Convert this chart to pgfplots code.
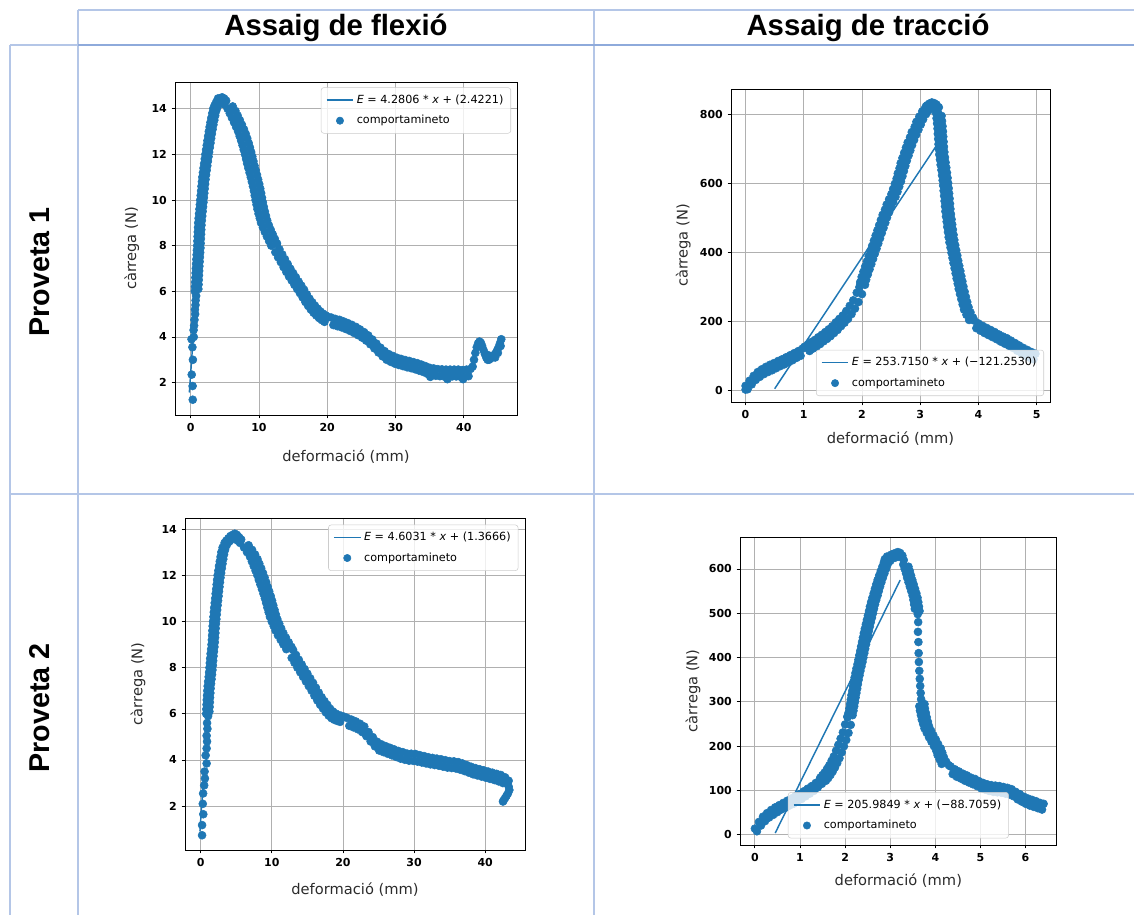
\documentclass[border=0pt]{standalone}
\usepackage{fontspec}
\setmainfont{DejaVu Sans}
\newfontfamily\arialfont{Liberation Sans}
\usepackage{pgfplots}
\pgfplotsset{compat=1.18}

\definecolor{mplblue}{HTML}{1F77B4}
\definecolor{gridgray}{HTML}{B0B0B0}
\definecolor{legendgray}{HTML}{CCCCCC}
\definecolor{tabthin}{HTML}{B4C6E7}
\definecolor{tabthick}{HTML}{8EAADB}
\definecolor{labelcol}{HTML}{2B2B2B}

\pgfplotsset{
  mplax/.style={
    scale only axis,
    anchor=north west,
    axis line style={black, line width=0.6pt},
    grid=major,
    major grid style={gridgray, line width=0.6pt},
    tick align=outside,
    major tick length=2.6pt,
    every tick/.style={black, line width=0.6pt},
    tick pos=left,
    ticklabel style={font=\fontsize{8.25}{10}\selectfont\bfseries},
    /pgf/number format/assume math mode=true,
    label style={font=\fontsize{11}{13}\selectfont, text=labelcol},
    xlabel={deformació (mm)},
    ylabel={càrrega (N)},
    legend cell align=left,
    reverse legend,
    legend style={font=\fontsize{8.4}{10}\selectfont, draw=legendgray,
      rounded corners=2pt, fill=white, fill opacity=0.8, text opacity=1,
      inner xsep=3.5pt, inner ysep=3.5pt, row sep=3.5pt},
  },
  dots/.style={only marks, mark=*, mark size=3pt, color=mplblue,
    mark options={fill=mplblue, draw=mplblue},
    legend image code/.code={\fill[mplblue, fill opacity=1] (10pt,0pt) circle (2.75pt);}},
  fitline/.style={mplblue, line width=1.1pt, no marks,
    legend image code/.code={\draw[mplblue, line width=1.2pt, draw opacity=1] (0pt,0pt) -- (20pt,0pt);}},
}

\begin{document}
\begin{tikzpicture}
% table grid, 1 unit = 1 px of the reference, y downwards
\begin{scope}[x=0.75pt, y=-0.75pt]
  \path[use as bounding box] (0,0) rectangle (1134,915);
  \draw[tabthin, line width=1.1pt] (78,10) -- (1134,10);
  \draw[tabthin, line width=1.1pt] (10,45) -- (78,45);
  \draw[tabthin, line width=1.1pt] (78,10) -- (78,915);
  \draw[tabthin, line width=1.1pt] (594,10) -- (594,915);
  \draw[tabthin, line width=1.1pt] (10,45) -- (10,915);
  \draw[tabthin, line width=1.1pt] (10,494) -- (1134,494);
  \draw[tabthick, line width=2.2pt] (78,45) -- (1134,45);
  \node[font=\arialfont\bfseries\fontsize{22}{25}\selectfont] at (336,28) {Assaig de flexió};
  \node[font=\arialfont\bfseries\fontsize{22}{25}\selectfont] at (868,28) {Assaig de tracció};
  \node[rotate=90, font=\arialfont\bfseries\fontsize{21.5}{24}\selectfont] at (40,272) {Proveta 1};
  \node[rotate=90, font=\arialfont\bfseries\fontsize{21.5}{24}\selectfont] at (40,708) {Proveta 2};
\end{scope}

% Proveta 1, flexió
\begin{axis}[mplax, at={(131.25pt,-61.5pt)}, width=256.5pt, height=249.75pt,
  xmin=-2.3, xmax=47.8, ymin=0.58, ymax=15.17,
  xtick={0,10,20,30,40}, ytick={2,4,6,8,10,12,14},
  xlabel style={at={(axis description cs:0.5,-0.126)}, anchor=center},
  ylabel style={at={(axis description cs:-0.126,0.5)}, anchor=center},
  legend style={at={(1,1)}, anchor=north east, xshift=-4.5pt, yshift=-4pt}]
\addplot[dots] coordinates {
(0.30,1.25) (0.28,1.85) (0.15,2.35) (0.32,3.0) (0.25,3.55) (0.12,3.9) (0.45,4.0) (0.42,4.3) (0.5,4.5) (0.55,4.75) (0.65,5.0) (0.62,5.2) (0.7,5.4) (0.72,5.6) (0.8,5.8)
(0.6,6.0) (0.63,6.2) (0.66,6.4) (0.69,6.6) (0.72,6.8) (0.75,7.0) (0.79,7.2) (0.83,7.4) (0.87,7.6) (0.91,7.8) (0.95,8.0) (0.98,8.2) (1.01,8.4) (1.04,8.6) (1.07,8.8) (1.1,9.0) (1.16,9.2) (1.22,9.4) (1.28,9.6) (1.34,9.8) (1.4,10.0) (1.46,10.2) (1.52,10.4) (1.58,10.6) (1.64,10.8) (1.7,11.0) (1.79,11.2) (1.88,11.4) (1.97,11.6) (2.06,11.8) (2.15,12.0) (2.25,12.2) (2.35,12.4) (2.45,12.6) (2.55,12.8) (2.65,13.0) (2.77,13.2) (2.89,13.4) (3.02,13.6) (3.16,13.8) (3.3,14.0) (3.5,14.15) (3.75,14.3)
(1.12,6.1) (1.15,6.3) (1.18,6.5) (1.21,6.7) (1.24,6.9) (1.27,7.1) (1.31,7.3) (1.35,7.5) (1.39,7.7) (1.43,7.9) (1.46,8.1) (1.49,8.3) (1.52,8.5) (1.55,8.7) (1.58,8.9) (1.63,9.1) (1.69,9.3) (1.75,9.5) (1.81,9.7) (1.87,9.9) (1.93,10.1) (1.99,10.3) (2.05,10.5) (2.11,10.7) (2.17,10.9) (2.25,11.1) (2.34,11.3) (2.43,11.5) (2.52,11.7) (2.61,11.9) (2.7,12.1) (2.8,12.3) (2.9,12.5) (3.0,12.7) (3.1,12.9) (3.21,13.1) (3.33,13.3) (3.46,13.5) (3.59,13.7) (3.73,13.9) (3.9,14.05) (4.1,14.2)
(4.3,14.45) (4.6,14.5) (4.9,14.45) (5.2,14.35) (4.5,14.3) (4.9,14.2) (4.0,14.45)
(4.93,14.2) (5.4,14.0) (5.72,13.8) (6.04,13.6) (6.35,13.4) (6.65,13.2) (6.95,13.0) (7.17,12.8) (7.39,12.6) (7.59,12.4) (7.77,12.2) (7.95,12.0) (8.11,11.8) (8.27,11.6) (8.44,11.4) (8.62,11.2) (8.8,11.0) (8.96,10.8) (9.12,10.6) (9.26,10.4) (9.38,10.2) (9.5,10.0) (9.64,9.8) (9.78,9.6) (9.94,9.4) (10.12,9.2) (10.3,9.0) (10.58,8.8) (10.86,8.6) (11.16,8.4) (11.48,8.2) (11.8,8.0)
(6.16,14.1) (6.56,13.9) (6.88,13.7) (7.2,13.5) (7.5,13.3) (7.8,13.1) (8.06,12.9) (8.28,12.7) (8.49,12.5) (8.68,12.3) (8.86,12.1) (9.03,11.9) (9.19,11.7) (9.35,11.5) (9.53,11.3) (9.71,11.1) (9.88,10.9) (10.04,10.7) (10.19,10.5) (10.32,10.3) (10.44,10.1) (10.57,9.9) (10.71,9.7) (10.86,9.5) (11.03,9.3) (11.21,9.1) (11.44,8.9) (11.72,8.7) (12.01,8.5) (12.32,8.3) (12.64,8.1)
(12.6,8.06) (13.0,7.84) (13.4,7.62) (13.8,7.41) (14.2,7.2) (14.6,6.99) (15.0,6.8) (15.4,6.62) (15.8,6.43) (16.2,6.25) (16.6,6.07) (17.0,5.87) (17.4,5.68) (17.8,5.52) (18.2,5.37) (18.6,5.24) (19.0,5.12) (19.4,5.02) (19.8,4.94) (20.2,4.87)
(12.4,7.71) (12.8,7.49) (13.2,7.28) (13.6,7.06) (14.0,6.85) (14.4,6.65) (14.8,6.47) (15.2,6.28) (15.6,6.1) (16.0,5.92) (16.4,5.73) (16.8,5.53) (17.2,5.36) (17.6,5.2) (18.0,5.06) (18.4,4.94) (18.8,4.83) (19.2,4.74) (19.6,4.66)
(20.6,4.85) (21.2,4.79) (21.8,4.75) (22.4,4.68) (23.0,4.61) (23.6,4.53) (24.2,4.44) (24.8,4.33) (25.4,4.21) (26.0,4.07) (26.6,3.89) (27.2,3.71) (27.8,3.53) (28.4,3.38) (29.0,3.25) (29.6,3.17) (30.2,3.09) (30.8,3.04) (31.4,2.99) (32.0,2.95) (32.6,2.9) (33.2,2.85) (33.8,2.79) (34.4,2.72) (35.0,2.65) (35.6,2.62) (36.2,2.59) (36.8,2.58) (37.4,2.57) (38.0,2.57) (38.6,2.57) (39.2,2.57) (39.8,2.55) (40.4,2.57) (41.0,2.6)
(20.9,4.52) (21.5,4.47) (22.1,4.42) (22.7,4.35) (23.3,4.27) (23.9,4.18) (24.5,4.08) (25.1,3.97) (25.7,3.84) (26.3,3.68) (26.9,3.5) (27.5,3.32) (28.1,3.15) (28.7,3.0) (29.3,2.91) (29.9,2.83) (30.5,2.77) (31.1,2.72) (31.7,2.67) (32.3,2.63) (32.9,2.58) (33.5,2.52) (34.1,2.46) (34.7,2.38) (35.3,2.33) (35.9,2.3) (36.5,2.28) (37.1,2.27) (37.7,2.27) (38.3,2.27) (38.9,2.27) (39.5,2.26) (40.1,2.25) (40.7,2.28)
(37.6,2.15) (39.9,2.15) (35.1,2.25)
(41.3,2.7) (41.5,3.0) (41.7,3.3) (41.9,3.55) (42.1,3.72) (42.3,3.8) (42.5,3.75) (42.7,3.6) (42.9,3.42) (43.1,3.25) (43.3,3.1) (43.5,3.0) (43.7,3.0) (43.9,3.05) (44.1,3.1) (44.3,3.15) (44.5,3.22) (44.7,3.3) (44.9,3.42) (45.1,3.55) (45.3,3.72) (45.5,3.9) (45.4,3.6) (45.0,3.3) (44.6,3.1) (43.6,3.2) (42.4,3.6)
};
\addlegendentry{comportamineto}
\addplot[fitline] coordinates {(-0.2,1.566) (0.35,3.920)};
\addlegendentry{\textit{E} = 4.2806 * \textit{x} + (2.4221)}
\end{axis}

% Proveta 1, tracció
\begin{axis}[mplax, at={(548.25pt,-66.75pt)}, width=239.25pt, height=234.75pt,
  xmin=-0.25, xmax=5.23, ymin=-33, ymax=875,
  xtick={0,1,2,3,4,5}, ytick={0,200,400,600,800},
  xlabel style={at={(axis description cs:0.5,-0.118)}, anchor=center},
  ylabel style={at={(axis description cs:-0.15,0.5)}, anchor=center},
  legend style={at={(1,0)}, anchor=south east, xshift=-4.5pt, yshift=4.5pt}]
\addplot[dots] coordinates {
(0.0,3) (0.02,10)
(0.0,14) (0.07,29) (0.14,43) (0.21,54) (0.28,62) (0.35,69) (0.42,75) (0.49,80) (0.56,86) (0.63,91) (0.7,97) (0.77,103) (0.84,109) (0.91,115) (0.98,122)
(0.035,4) (0.105,18) (0.175,31) (0.245,40) (0.315,48) (0.385,54) (0.455,59) (0.525,65) (0.595,71) (0.665,76) (0.735,82) (0.805,88) (0.875,95) (0.945,101)
(1.01,127) (1.07,134) (1.13,141) (1.19,147) (1.25,155) (1.31,162) (1.37,170) (1.43,178) (1.49,187) (1.55,198) (1.61,208) (1.67,218) (1.73,231) (1.79,246) (1.85,262) (1.91,284) (1.97,308)
(1.1,115) (1.16,122) (1.22,128) (1.28,135) (1.34,143) (1.4,150) (1.46,158) (1.52,167) (1.58,176) (1.64,187) (1.7,197) (1.76,208) (1.82,222) (1.88,238) (1.94,257) (2.0,280)
(1.955,300) (1.97,315) (1.995,330) (2.025,345) (2.055,360) (2.085,375) (2.115,390) (2.145,405) (2.175,420) (2.205,435) (2.235,450) (2.265,465) (2.295,480) (2.325,495) (2.355,510) (2.395,525) (2.425,540) (2.465,555) (2.505,570) (2.535,585) (2.565,600) (2.595,615) (2.615,630) (2.645,645) (2.665,660) (2.695,675) (2.725,690) (2.755,705) (2.785,720) (2.825,735) (2.855,750) (2.905,765) (2.935,780) (2.985,795) (3.035,810)
(2.052,307) (2.072,322) (2.1,337) (2.13,352) (2.16,367) (2.19,382) (2.22,397) (2.25,412) (2.28,427) (2.31,442) (2.34,457) (2.37,472) (2.4,487) (2.43,502) (2.465,517) (2.5,532) (2.535,547) (2.575,562) (2.61,577) (2.64,592) (2.67,607) (2.695,622) (2.72,637) (2.745,652) (2.77,667) (2.8,682) (2.83,697) (2.86,712) (2.895,727) (2.93,742) (2.97,757) (3.01,772) (3.05,787) (3.1,802)
(3.08,818) (3.12,828) (3.16,833) (3.2,836) (3.24,834) (3.28,830) (3.32,822) (3.14,812) (3.2,820) (3.26,816) (3.3,808) (3.1,825)
(3.273,805) (3.281,790) (3.29,775) (3.298,760) (3.303,745) (3.309,730) (3.315,715) (3.321,700) (3.328,685) (3.34,670) (3.351,655) (3.365,640) (3.375,625) (3.386,610) (3.395,595) (3.403,580) (3.411,565) (3.419,550) (3.426,535) (3.433,520) (3.443,505) (3.455,490) (3.465,475) (3.477,460) (3.489,445) (3.503,430) (3.521,415) (3.538,400) (3.555,385) (3.572,370) (3.591,355) (3.609,340) (3.626,325) (3.645,310) (3.662,295) (3.684,280) (3.707,265) (3.73,250) (3.753,235) (3.795,220) (3.84,205)
(3.367,797) (3.375,782) (3.384,767) (3.391,752) (3.396,737) (3.402,722) (3.408,707) (3.415,692) (3.425,677) (3.436,662) (3.448,647) (3.46,632) (3.47,617) (3.48,602) (3.489,587) (3.497,572) (3.505,557) (3.512,542) (3.519,527) (3.528,512) (3.539,497) (3.55,482) (3.561,467) (3.573,452) (3.586,437) (3.602,422) (3.619,407) (3.637,392) (3.653,377) (3.671,362) (3.69,347) (3.707,332) (3.725,317) (3.743,302) (3.763,287) (3.785,272) (3.808,257) (3.831,242) (3.864,227) (3.907,212)
(3.93,203) (4.0,195) (4.07,188) (4.14,182) (4.21,176) (4.28,170) (4.35,163) (4.42,157) (4.49,152) (4.56,145) (4.63,138) (4.7,131) (4.77,124) (4.84,118) (4.91,112) (4.98,107)
(3.965,181) (4.035,174) (4.105,167) (4.175,161) (4.245,155) (4.315,149) (4.385,142) (4.455,136) (4.525,130) (4.595,124) (4.665,116) (4.735,109) (4.805,102) (4.875,96) (4.945,91)
};
\addlegendentry{comportamineto}
\addplot[fitline] coordinates {(0.5,5.6) (3.43,749.0)};
\addlegendentry{\textit{E} = 253.7150 * \textit{x} + (−121.2530)}
\end{axis}

% Proveta 2, flexió
\begin{axis}[mplax, at={(138.75pt,-388.5pt)}, width=255pt, height=249pt,
  xmin=-2.2, xmax=45.6, ymin=0.1, ymax=14.48,
  xtick={0,10,20,30,40}, ytick={2,4,6,8,10,12,14},
  xlabel style={at={(axis description cs:0.5,-0.12)}, anchor=center},
  ylabel style={at={(axis description cs:-0.138,0.5)}, anchor=center},
  legend style={at={(1,1)}, anchor=north east, xshift=-5pt, yshift=-5pt}]
\addplot[dots] coordinates {
(0.2,0.74) (0.2,1.18) (0.37,1.65) (0.3,2.1) (0.35,2.55) (0.5,2.9) (0.6,3.2) (0.55,3.5) (0.84,3.85) (0.7,4.2) (0.84,4.5) (0.9,4.8) (0.84,5.05) (0.95,5.35) (0.9,5.6) (1.05,5.9)
(0.78,6.0) (0.8,6.2) (0.83,6.4) (0.86,6.6) (0.9,6.8) (0.94,7.0) (0.99,7.2) (1.06,7.4) (1.13,7.6) (1.19,7.8) (1.24,8.0) (1.29,8.2) (1.34,8.4) (1.4,8.6) (1.47,8.8) (1.53,9.0) (1.57,9.2) (1.61,9.4) (1.65,9.6) (1.69,9.8) (1.74,10.0) (1.8,10.2) (1.85,10.4) (1.91,10.6) (1.98,10.8) (2.05,11.0) (2.11,11.2) (2.18,11.4) (2.25,11.6) (2.31,11.8) (2.39,12.0) (2.49,12.2) (2.58,12.4) (2.69,12.6) (2.8,12.8) (2.91,13.0) (3.08,13.2) (3.36,13.4)
(1.23,6.1) (1.26,6.3) (1.29,6.5) (1.32,6.7) (1.36,6.9) (1.4,7.1) (1.46,7.3) (1.53,7.5) (1.6,7.7) (1.66,7.9) (1.71,8.1) (1.76,8.3) (1.81,8.5) (1.87,8.7) (1.94,8.9) (1.99,9.1) (2.03,9.3) (2.07,9.5) (2.11,9.7) (2.15,9.9) (2.21,10.1) (2.26,10.3) (2.32,10.5) (2.38,10.7) (2.45,10.9) (2.52,11.1) (2.58,11.3) (2.65,11.5) (2.72,11.7) (2.79,11.9) (2.88,12.1) (2.97,12.3) (3.07,12.5) (3.18,12.7) (3.29,12.9) (3.43,13.1) (3.66,13.3)
(3.6,13.5) (3.9,13.6) (4.2,13.7) (4.5,13.75) (4.8,13.8) (5.1,13.75) (5.4,13.65) (4.0,13.45) (4.4,13.55) (4.8,13.6) (5.2,13.5) (5.7,13.55)
(5.54,13.4) (6.1,13.2) (6.52,13.0) (6.94,12.8) (7.2,12.6) (7.46,12.4) (7.72,12.2) (7.97,12.0) (8.18,11.8) (8.4,11.6) (8.62,11.4) (8.83,11.2) (9.03,11.0) (9.21,10.8) (9.38,10.6) (9.56,10.4) (9.74,10.2) (9.99,10.0) (10.27,9.8) (10.54,9.6) (10.87,9.4) (11.26,9.2) (11.64,9.0) (12.04,8.8)
(6.74,13.3) (7.23,13.1) (7.65,12.9) (7.99,12.7) (8.25,12.5) (8.51,12.3) (8.76,12.1) (8.99,11.9) (9.21,11.7) (9.43,11.5) (9.64,11.3) (9.85,11.1) (10.04,10.9) (10.21,10.7) (10.39,10.5) (10.57,10.3) (10.78,10.1) (11.05,9.9) (11.32,9.7) (11.62,9.5) (11.98,9.3) (12.37,9.1) (12.76,8.9)
(13.0,8.76) (13.4,8.55) (13.8,8.34) (14.2,8.14) (14.6,7.94) (15.0,7.74) (15.4,7.54) (15.8,7.34) (16.2,7.13) (16.6,6.92) (17.0,6.72) (17.4,6.55) (17.8,6.39) (18.2,6.22) (18.6,6.1) (19.0,6.01) (19.4,5.95) (19.8,5.91) (20.2,5.87)
(12.8,8.42) (13.2,8.21) (13.6,8.0) (14.0,7.8) (14.4,7.6) (14.8,7.4) (15.2,7.2) (15.6,7.0) (16.0,6.78) (16.4,6.58) (16.8,6.39) (17.2,6.23) (17.6,6.06) (18.0,5.92) (18.4,5.81) (18.8,5.74) (19.2,5.69) (19.6,5.65)
(20.6,5.82) (21.2,5.75) (21.8,5.67) (22.4,5.57) (23.0,5.45) (23.6,5.21) (24.2,4.99) (24.8,4.79) (25.4,4.68) (26.0,4.6) (26.6,4.53) (27.2,4.46) (27.8,4.39) (28.4,4.34) (29.0,4.28) (29.6,4.27) (30.2,4.26) (30.8,4.21) (31.4,4.17) (32.0,4.12) (32.6,4.09) (33.2,4.06) (33.8,4.03) (34.4,3.99) (35.0,3.95) (35.6,3.94) (36.2,3.91) (36.8,3.85) (37.4,3.78) (38.0,3.71) (38.6,3.65) (39.2,3.6) (39.8,3.55) (40.4,3.5) (41.0,3.45) (41.6,3.4) (42.2,3.35) (42.8,3.25)
(20.9,5.48) (21.5,5.41) (22.1,5.33) (22.7,5.21) (23.3,5.03) (23.9,4.8) (24.5,4.59) (25.1,4.41) (25.7,4.34) (26.3,4.27) (26.9,4.2) (27.5,4.13) (28.1,4.06) (28.7,4.01) (29.3,3.97) (29.9,3.96) (30.5,3.93) (31.1,3.89) (31.7,3.85) (32.3,3.81) (32.9,3.78) (33.5,3.75) (34.1,3.71) (34.7,3.67) (35.3,3.65) (35.9,3.63) (36.5,3.58) (37.1,3.52) (37.7,3.45) (38.3,3.38) (38.9,3.33) (39.5,3.28) (40.1,3.23) (40.7,3.18) (41.3,3.13) (41.9,3.07) (42.5,3.0)
(43.1,3.0) (43.3,2.85) (43.4,2.7) (43.2,2.55) (43.0,2.45) (42.8,2.35) (42.6,2.25) (42.5,2.2) (43.3,3.1)
};
\addlegendentry{comportamineto}
\addplot[fitline] coordinates {(-0.1,0.906) (0.45,3.438)};
\addlegendentry{\textit{E} = 4.6031 * \textit{x} + (1.3666)}
\end{axis}

% Proveta 2, tracció
\begin{axis}[mplax, at={(555pt,-402.75pt)}, width=237.5pt, height=231pt,
  xmin=-0.33, xmax=6.69, ymin=-23, ymax=672,
  xtick={0,1,2,3,4,5,6}, ytick={0,100,200,300,400,500,600},
  xlabel style={at={(axis description cs:0.5,-0.117)}, anchor=center},
  ylabel style={at={(axis description cs:-0.148,0.5)}, anchor=center},
  legend style={at={(0.5,0)}, anchor=south, yshift=5pt}]
\addplot[dots] coordinates {
(0.0,14) (0.09,29) (0.18,41) (0.27,49) (0.36,56) (0.45,62) (0.54,67) (0.63,72) (0.72,77) (0.81,82) (0.9,87) (0.99,92) (1.08,98) (1.17,104) (1.26,110) (1.35,117) (1.44,125)
(0.045,8) (0.135,21) (0.225,31) (0.315,39) (0.405,45) (0.495,51) (0.585,57) (0.675,61) (0.765,66) (0.855,70) (0.945,76) (1.035,81) (1.125,87) (1.215,93) (1.305,99) (1.395,107) (1.485,115)
(1.45,129) (1.5,135) (1.55,141) (1.6,149) (1.65,157) (1.7,167) (1.75,177) (1.8,190) (1.85,203) (1.9,217) (1.95,231) (2.0,249) (2.05,267)
(1.575,122) (1.625,128) (1.675,135) (1.725,143) (1.775,152) (1.825,162) (1.875,173) (1.925,186) (1.975,200) (2.025,214) (2.075,230) (2.125,248)
(2.055,265) (2.075,275) (2.095,285) (2.11,295) (2.125,305) (2.14,315) (2.16,325) (2.175,335) (2.19,345) (2.21,355) (2.23,365) (2.25,375) (2.275,385) (2.295,395) (2.315,405) (2.335,415) (2.355,425) (2.375,435) (2.395,445) (2.415,455) (2.437,465) (2.46,475) (2.483,485) (2.506,495) (2.53,505) (2.55,515) (2.576,525) (2.605,535) (2.633,545) (2.66,555) (2.69,565) (2.72,575) (2.755,585) (2.79,595) (2.825,605) (2.86,615)
(2.165,270) (2.185,280) (2.202,290) (2.218,300) (2.233,310) (2.25,320) (2.268,330) (2.283,340) (2.3,350) (2.32,360) (2.34,370) (2.363,380) (2.385,390) (2.405,400) (2.425,410) (2.445,420) (2.465,430) (2.485,440) (2.505,450) (2.526,460) (2.548,470) (2.57,480) (2.595,490) (2.618,500) (2.64,510) (2.663,520) (2.69,530) (2.72,540) (2.747,550) (2.775,560) (2.805,570) (2.837,580) (2.872,590) (2.907,600) (2.942,610)
(2.88,622) (2.93,628) (2.98,625) (3.02,632) (3.07,634) (3.12,636) (3.17,638) (3.22,636) (3.27,630) (3.0,618) (3.1,625) (3.2,627) (3.3,620) (2.95,615)
(3.29,610) (3.32,600) (3.35,590) (3.375,580) (3.405,570) (3.435,560) (3.465,550) (3.495,540) (3.515,530) (3.53,520) (3.545,510)
(3.405,605) (3.435,595) (3.462,585) (3.49,575) (3.52,565) (3.55,555) (3.58,545) (3.605,535) (3.622,525) (3.637,515) (3.65,505)
(3.61,498) (3.62,480) (3.615,458) (3.625,435) (3.63,410) (3.635,390) (3.645,370) (3.655,352) (3.665,336) (3.675,320) (3.685,306)
(3.76,295) (3.77,285) (3.79,275) (3.81,265) (3.835,255) (3.86,245) (3.905,235) (3.955,225) (4.01,215) (4.06,205) (4.12,195) (4.155,185) (4.19,175) (4.24,165) (4.3,157)
(3.645,290) (3.66,280) (3.68,270) (3.7,260) (3.73,250) (3.76,240) (3.81,230) (3.86,220) (3.915,210) (3.97,200) (4.02,190) (4.05,180) (4.095,170) (4.14,160)
(4.34,154) (4.43,148) (4.52,143) (4.61,138) (4.7,134) (4.79,129) (4.88,126) (4.97,121) (5.06,117) (5.15,114) (5.24,112) (5.33,111) (5.42,110) (5.51,108) (5.6,106) (5.69,103) (5.78,97) (5.87,92) (5.96,86) (6.05,82) (6.14,79) (6.23,76) (6.32,72) (6.4,70)
(4.385,137) (4.475,131) (4.565,127) (4.655,122) (4.745,118) (4.835,114) (4.925,110) (5.015,105) (5.105,102) (5.195,99) (5.285,97) (5.375,96) (5.465,95) (5.555,93) (5.645,91) (5.735,87) (5.825,80) (5.915,75) (6.005,70) (6.095,66) (6.185,63) (6.275,60) (6.365,57)
};
\addlegendentry{comportamineto}
\addplot[fitline] coordinates {(0.45,3.99) (3.22,574.57)};
\addlegendentry{\textit{E} = 205.9849 * \textit{x} + (−88.7059)}
\end{axis}
\end{tikzpicture}
\end{document}
